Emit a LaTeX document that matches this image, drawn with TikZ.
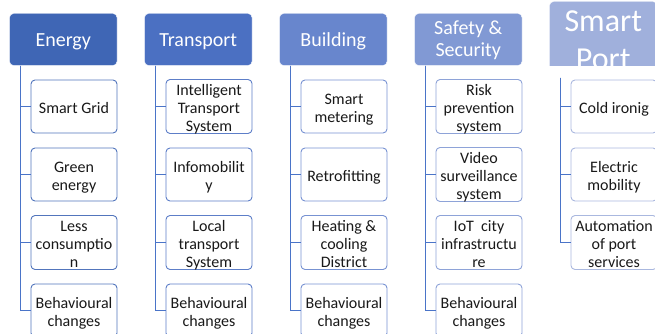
\documentclass[tikz,border=0pt]{standalone}
\usepackage{fontspec}
\setmainfont{Carlito}
\usepackage{tikz}
\usetikzlibrary{positioning}
\definecolor{city-energy}{HTML}{3F66B5}
\definecolor{city-transport}{HTML}{4B70C2}
\definecolor{city-building}{HTML}{6886CD}
\definecolor{city-safety}{HTML}{8199D4}
\definecolor{city-port}{HTML}{A0B0DC}
\definecolor{city-link}{HTML}{4A74C8}

% lines of a box, set a little low
\newcommand{\boxlines}[2][-3pt]{\raisebox{#1}[\height][\depth]{\begin{tabular}{@{}c@{}}#2\end{tabular}}}

\tikzset{
    head/.style={rectangle, rounded corners=4pt, draw=white, line width=0.4pt,
                 minimum width=107.5pt, minimum height=52pt, inner sep=0pt,
                 text=white, font=\fontsize{20}{22}\selectfont},
    item/.style={rectangle, rounded corners=4pt, fill=white, line width=0.9pt,
                 minimum width=86pt, minimum height=53pt, inner sep=0pt,
                 text=black!90, font=\fontsize{16}{18}\selectfont},
    link/.style={draw=city-link, line width=1pt}
}

\begin{document}
\begin{tikzpicture}[x=1pt, y=-1pt]

    \useasboundingbox (0,0) rectangle (655,334);
    \clip (0,0) rectangle (655,334);

    % headers
    \node[head, fill=city-energy] (energy) at (63.25,39.5) {\boxlines[-2.8pt]{Energy}};
    \node[head, fill=city-transport] (transport) at (198.25,39.5) {\boxlines[-2.8pt]{Transport}};
    \node[head, fill=city-building] (building) at (333.25,39.5) {\boxlines[-2.8pt]{Building}};
    \node[head, fill=city-safety] (safety) at (468.25,39.5) {\boxlines[-1.5pt]{Safety \&\\Security}};
    \begin{scope}
        \clip (549.5,-10) rectangle (660,65.5);
        \node[head, fill=city-port, font=\fontsize{32}{38}\selectfont] (port) at (603.25,39.5) {\boxlines[-3.5pt]{Smart\\Port}};
    \end{scope}

    % items
    \begin{scope}[every node/.style={item, draw=city-energy!90!white}]
        \node (en1) at (74,106.5) {\boxlines{Smart Grid}};
        \node (en2) at (74,174.5) {\boxlines{Green\\energy}};
        \node (en3) at (74,242.5) {\boxlines{Less\\consumptio\\n}};
        \node (en4) at (74,310.5) {\boxlines{Behavioural\\changes}};
    \end{scope}
    \begin{scope}[every node/.style={item, draw=city-transport!90!white}]
        \node (tr1) at (209,106.5) {\boxlines{Intelligent\\Transport\\System}};
        \node (tr2) at (209,174.5) {\boxlines{Infomobilit\\y}};
        \node (tr3) at (209,242.5) {\boxlines{Local\\transport\\System}};
        \node (tr4) at (209,310.5) {\boxlines{Behavioural\\changes}};
    \end{scope}
    \begin{scope}[every node/.style={item, draw=city-building!90!white}]
        \node (bu1) at (344,106.5) {\boxlines{Smart\\metering}};
        \node (bu2) at (344,174.5) {\boxlines{Retrofitting}};
        \node (bu3) at (344,242.5) {\boxlines{Heating \&\\cooling\\District}};
        \node (bu4) at (344,310.5) {\boxlines{Behavioural\\changes}};
    \end{scope}
    \begin{scope}[every node/.style={item, draw=city-safety!90!white}]
        \node (sa1) at (479,106.5) {\boxlines{Risk\\prevention\\system}};
        \node (sa2) at (479,174.5) {\boxlines{Video\\surveillance\\system}};
        \node (sa3) at (479,242.5) {\boxlines{IoT\ \ city\\infrastructu\\re}};
        \node (sa4) at (479,310.5) {\boxlines{Behavioural\\changes}};
    \end{scope}
    \begin{scope}[every node/.style={item, draw=city-port!90!white}]
        \node (po1) at (614,106.5) {\boxlines{Cold ironig}};
        \node (po2) at (614,174.5) {\boxlines{Electric\\mobility}};
        \node (po3) at (614,242.5) {\boxlines{Automation\\of port\\services}};
    \end{scope}

    % links
    \begin{scope}[every path/.style={link}]
        \draw ([xshift=11.5pt]energy.south west) |- (en1.west);
        \draw ([xshift=11.5pt]energy.south west) |- (en2.west);
        \draw ([xshift=11.5pt]energy.south west) |- (en3.west);
        \draw ([xshift=11.5pt]energy.south west) |- (en4.west);

        \draw ([xshift=11.5pt]transport.south west) |- (tr1.west);
        \draw ([xshift=11.5pt]transport.south west) |- (tr2.west);
        \draw ([xshift=11.5pt]transport.south west) |- (tr3.west);
        \draw ([xshift=11.5pt]transport.south west) |- (tr4.west);

        \draw ([xshift=11.5pt]building.south west) |- (bu1.west);
        \draw ([xshift=11.5pt]building.south west) |- (bu2.west);
        \draw ([xshift=11.5pt]building.south west) |- (bu3.west);
        \draw ([xshift=11.5pt]building.south west) |- (bu4.west);

        \draw ([xshift=11.5pt]safety.south west) |- (sa1.west);
        \draw ([xshift=11.5pt]safety.south west) |- (sa2.west);
        \draw ([xshift=11.5pt]safety.south west) |- (sa3.west);
        \draw ([xshift=11.5pt]safety.south west) |- (sa4.west);

        \draw ([xshift=11.5pt]port.south west) |- (po1.west);
        \draw ([xshift=11.5pt]port.south west) |- (po2.west);
        \draw ([xshift=11.5pt]port.south west) |- (po3.west);
    \end{scope}

\end{tikzpicture}
\end{document}
